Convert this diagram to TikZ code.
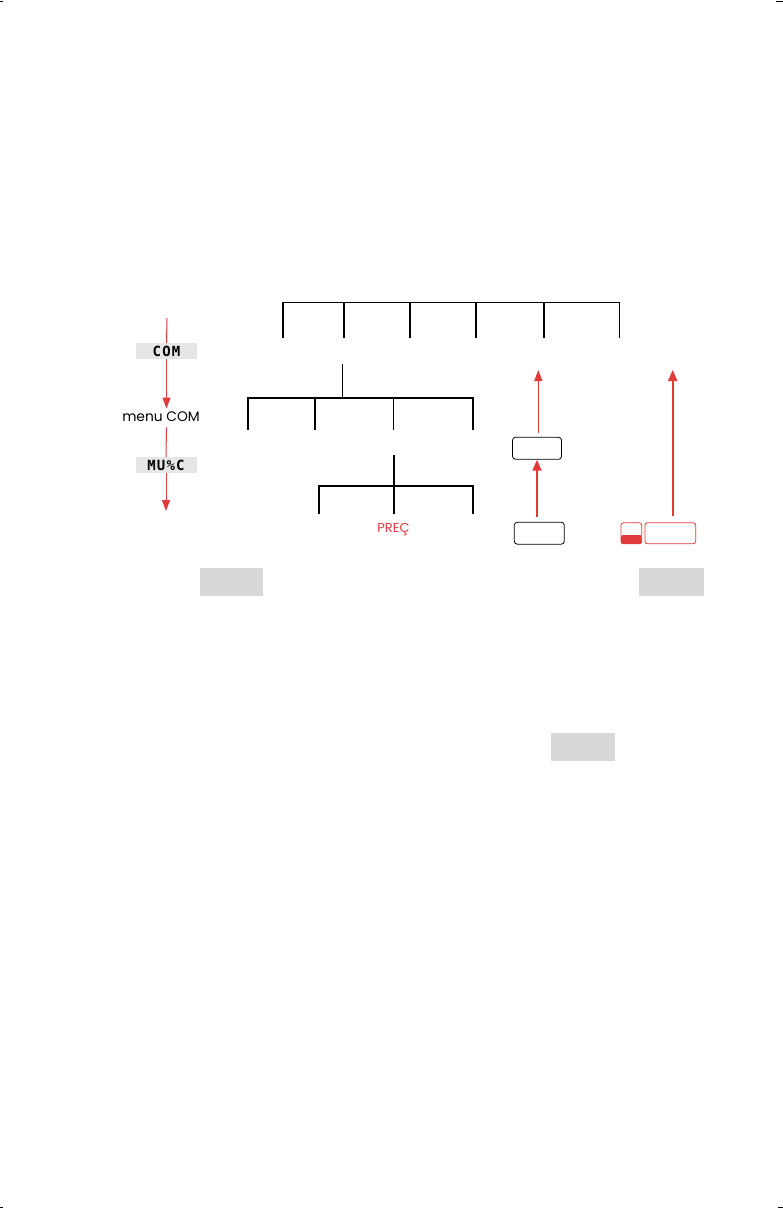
\documentclass[tikz,border=0pt]{standalone}
\usepackage{fontspec}
\setmainfont{Poppins}
\newfontfamily\lcdfont[LetterSpace=8]{DejaVu Sans Mono}
\usetikzlibrary{arrows.meta}
\definecolor{cred}{HTML}{E03A3A}
\definecolor{lcdgray}{HTML}{E6E6E6}
\definecolor{boxgray}{HTML}{D8D8D8}
\begin{document}
\begin{tikzpicture}[x=1pt,y=-1pt,
  redarrow/.style={draw=cred,line width=1pt,-{Triangle[width=8pt,length=11pt]},color=cred},
  redthick/.style={draw=cred,line width=2pt,-{Triangle[width=9pt,length=11pt]},color=cred},
  lcdbox/.style={fill=lcdgray,inner sep=0pt,minimum width=61pt,minimum height=16pt,font=\lcdfont\bfseries\fontsize{14}{14}\selectfont},
  keybox/.style={draw=black,line width=0.8pt,rounded corners=3pt,inner sep=0pt,minimum width=49pt,minimum height=22pt},
  redkey/.style={draw=cred,line width=0.8pt,rounded corners=2.5pt,inner sep=0pt,minimum height=21pt},
  graybox/.style={fill=boxgray,inner sep=0pt,minimum width=63pt,minimum height=28pt},
  thickln/.style={line width=2pt,line cap=butt},
  thinln/.style={line width=1pt},
  crop/.style={line width=0.8pt}]
\useasboundingbox (0,0) rectangle (783,1209);
% crop marks
\draw[crop] (0,1) -- (3,1);
\draw[crop] (776,1) -- (783,1);
\draw[crop] (0,1207.5) -- (3,1207.5);
\draw[crop] (778,1207.5) -- (783,1207.5);

% left column
\coordinate (ltop) at (167,318);
\node[lcdbox] (com) at (166.5,351) {COM};
\node[font=\fontsize{13.8}{13.8}\selectfont] (menu) at (161,417) {menu COM};
\node[lcdbox] (muxc) at (166,465) {MU\%C};
\coordinate (lbot) at (167,511);
\draw[cred,line width=1pt] (ltop) -- (com.north);
\draw[redarrow] (com.south) -- (menu.north -| com.south);
\draw[cred,line width=1pt] (menu.south -| com.south) ++(0,2) -- (muxc.north);
\draw[redarrow] (muxc.south) -- (lbot -| muxc.south);

% top bracket
\coordinate (t1) at (283,302);
\coordinate (t6) at (619,302);
\draw[thinln] (t1) -- (t6);
\foreach \x in {283,344,410,476,544} \draw[thickln] (\x,301.5) -- (\x,338);
\draw[thinln] (619,301.5) -- (619,338);

% middle bracket
\coordinate (mstem) at (342.5,364);
\coordinate (mjoin) at (342.5,398);
\draw[thinln] (mstem) -- (mjoin);
\draw[thickln] (248,398) -- (473,398);
\foreach \x in {248,315,473} \draw[thickln] (\x,397) -- (\x,430);
\draw[thinln] (393.5,398) -- (393.5,430);

% lower bracket
\coordinate (lstem) at (394,455);
\coordinate (ljoin) at (394,486);
\draw[thickln] (lstem) -- (ljoin);
\draw[thickln] (318.5,486) -- (473,486);
\foreach \x in {318.5,394,473} \draw[thickln] (\x,485) -- (\x,514);
\node[text=cred,font=\fontsize{13}{13}\selectfont] (prec) at (393.5,530) {PREÇ};

% right keys
\node[keybox] (key1) at (537,448.3) {};
\node[keybox,minimum width=50pt] (key2) at (539.3,533.2) {};
\coordinate (tip1) at (538.3,370);
\draw[redarrow] (key1.north -| tip1) ++(0,-4) -- (tip1);
\draw[redthick] (key2.north -| key1.south) ++(0,-5) -- (key1.south);

\node[redkey,minimum width=20.7pt] (skey) at (631.3,533.3) {};
\fill[cred,rounded corners=2pt] (621,535) -- (621,543.9) -- (641.7,543.9) -- (641.7,535) -- cycle;
\node[redkey,minimum width=50.7pt] (lkey) at (670.3,533.3) {};
\coordinate (tip3) at (672.7,370);
\draw[redthick] (lkey.north -| tip3) ++(0,-6) -- (tip3);

% gray boxes
\node[graybox] (ga) at (231.5,582) {};
\node[graybox,minimum width=65pt] (gb) at (671.5,582) {};
\node[graybox,minimum width=64pt,minimum height=27.4pt] (gc) at (583,747) {};
\end{tikzpicture}
\end{document}
